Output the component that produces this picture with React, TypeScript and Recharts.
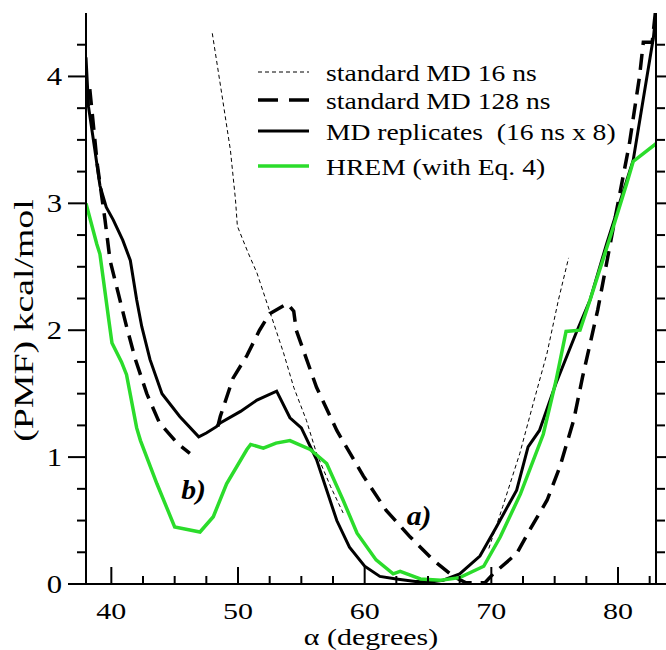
import React from 'react';
import { LineChart, Line, XAxis, YAxis, Legend, ReferenceDot } from 'recharts';

// alpha in degrees, PMF in kcal/mol
const md16Alpha = [47.97, 48.3, 48.8, 49.4, 49.8, 49.95, 50.8, 51.5, 52.3, 53.6, 54.4, 55.4, 56.2, 57.3, 58.3, 64, 69.8, 70.9, 72.25, 73.3, 74.4, 75.3, 76.1];
const md16Pmf = [4.34, 4.13, 3.81, 3.42, 3.03, 2.82, 2.61, 2.45, 2.21, 1.82, 1.55, 1.29, 1.03, 0.77, 0.56, null, 0.28, 0.61, 1.03, 1.42, 1.82, 2.24, 2.57];

const md128Alpha = [38.3, 38.9, 39.5, 39.9, 40.55, 41.2, 41.9, 42.8, 43.8, 45.2, 46.2, 47.3, 48.4, 48.6, 49.6, 50.7, 51.7, 52.5, 53.9, 54.4, 54.6, 56.2, 57.8, 59.9, 61.7, 63.6, 65.4, 67.0, 68.0, 69.5, 70.15, 72.0, 73.0, 74.4, 75.4, 76.5, 77.2, 78.4, 79.9, 80.9, 81.7, 82.0, 82.7, 83.0];
const md128Pmf = [3.9, 3.3, 2.87, 2.55, 2.29, 2.03, 1.77, 1.5, 1.27, 1.11, 1.03, null, 1.24, 1.32, 1.62, 1.8, 2.0, 2.13, 2.21, 2.15, 2.0, 1.55, 1.21, 0.85, 0.58, 0.37, 0.19, 0.06, 0.01, 0.01, 0.08, 0.24, 0.42, 0.66, 0.92, 1.29, 1.63, 2.16, 2.95, 3.47, 4.0, 4.27, 4.27, 4.55];

const replicaAlpha = [38.0, 38.2, 38.7, 39.1, 39.6, 40.15, 40.9, 41.5, 42.0, 42.4, 43.05, 44.0, 45.4, 46.9, 47.5, 48.3, 48.6, 50.2, 51.5, 53.05, 54.1, 55.0, 56.2, 57.8, 58.8, 60.0, 61.2, 62.5, 64.0, 65.5, 66.2, 67.5, 69.1, 70.4, 72.0, 72.9, 73.8, 75.1, 76.7, 77.8, 79.1, 81.2, 82.8, 83.1];
const replicaPmf = [4.15, 3.76, 3.42, 3.14, 2.97, 2.87, 2.71, 2.55, 2.24, 2.03, 1.77, 1.5, 1.32, 1.16, 1.19, 1.24, 1.27, 1.36, 1.45, 1.52, 1.31, 1.23, 0.98, 0.5, 0.29, 0.14, 0.06, 0.04, 0.02, 0.02, 0.03, 0.08, 0.22, 0.45, 0.74, 1.08, 1.21, 1.58, 1.98, 2.24, 2.68, 3.34, 4.31, 4.6];

const hremAlpha = [38.0, 38.85, 39.1, 39.8, 40.05, 40.8, 41.2, 42.0, 42.3, 43.6, 45.0, 47.0, 48.05, 49.1, 50.7, 51.0, 52.0, 53.0, 54.1, 55.7, 57.0, 58.3, 59.4, 60.9, 62.25, 62.8, 63.6, 64.4, 66.0, 67.5, 69.4, 70.7, 72.3, 74.1, 75.1, 75.9, 77.0, 77.8, 79.4, 80.7, 81.2, 83.0];
const hremPmf = [3.0, 2.68, 2.6, 2.08, 1.9, 1.75, 1.65, 1.23, 1.13, 0.79, 0.45, 0.41, 0.53, 0.79, 1.06, 1.1, 1.07, 1.11, 1.13, 1.06, 0.95, 0.66, 0.4, 0.19, 0.08, 0.1, 0.07, 0.04, 0.03, 0.05, 0.14, 0.37, 0.71, 1.18, 1.6, 1.99, 2.0, 2.24, 2.74, 3.16, 3.33, 3.47];

const xTicks = [40, 42.5, 45, 47.5, 50, 52.5, 55, 57.5, 60, 62.5, 65, 67.5, 70, 72.5, 75, 77.5, 80, 82.5];
const yTicks = [0, 0.25, 0.5, 0.75, 1, 1.25, 1.5, 1.75, 2, 2.25, 2.5, 2.75, 3, 3.25, 3.5, 3.75, 4, 4.25];

const SERIF = 'Liberation Serif, Times New Roman, DejaVu Serif, serif';
const GREEN = '#2bdc2b';

interface Point {
  alpha: number;
  pmf: number | null;
}

interface SeriesConfig {
  name: string;
  data: Point[];
  stroke: string;
  width: number;
  dash?: string;
  legendDash?: string;
}

function toPoints(alpha: number[], pmf: (number | null)[]): Point[] {
  return alpha.map((a, i) => ({ alpha: a, pmf: pmf[i] }));
}

const series: SeriesConfig[] = [
  { name: 'standard MD 16 ns', data: toPoints(md16Alpha, md16Pmf), stroke: '#000', width: 1, dash: '4 3', legendDash: '4 3' },
  { name: 'standard MD 128 ns', data: toPoints(md128Alpha, md128Pmf), stroke: '#000', width: 3.5, dash: '16 9', legendDash: '20 11' },
  { name: 'MD replicates  (16 ns x 8)', data: toPoints(replicaAlpha, replicaPmf), stroke: '#000', width: 3 },
  { name: 'HREM (with Eq. 4)', data: toPoints(hremAlpha, hremPmf), stroke: GREEN, width: 3.5 },
];

interface StretchTextProps {
  x: number;
  y: number;
  size: number;
  stretch?: number;
  anchor?: 'start' | 'middle' | 'end';
  rotate?: number;
  italic?: boolean;
  bold?: boolean;
  children: React.ReactNode;
}

// the figure's serif type is wider than Times, so text is stretched along its baseline
function StretchText({ x, y, size, stretch = 1.18, anchor = 'start', rotate = 0, italic, bold, children }: StretchTextProps) {
  const transform = `translate(${x},${y})${rotate ? ` rotate(${rotate})` : ''} scale(${stretch},1)`;
  return (
    <text
      transform={transform}
      textAnchor={anchor}
      fill="#000"
      style={{
        whiteSpace: 'pre',
        fontFamily: SERIF,
        fontSize: size,
        fontStyle: italic ? 'italic' : 'normal',
        fontWeight: bold ? 'bold' : 'normal',
      }}
    >
      {children}
    </text>
  );
}

const isMajorX = (v: number) => v % 10 === 0;
const isMajorY = (v: number) => v % 1 === 0;

function BottomTick({ x, y, payload }: any) {
  const major = isMajorX(payload.value);
  return (
    <g>
      <line x1={x} x2={x} y1={y} y2={y - (major ? 17 : 8)} stroke="#000" strokeWidth={2} />
      {major && (
        <StretchText x={x} y={y + 35} size={24} anchor="middle" stretch={1.25}>
          {payload.value}
        </StretchText>
      )}
    </g>
  );
}

function TopTick({ x, y, payload }: any) {
  const major = isMajorX(payload.value);
  return <line x1={x} x2={x} y1={y} y2={y + (major ? 17 : 8)} stroke="#000" strokeWidth={2} />;
}

function LeftTick({ x, y, payload }: any) {
  const major = isMajorY(payload.value);
  return (
    <g>
      <line x1={x} x2={x - (major ? 18 : 9)} y1={y} y2={y} stroke="#000" strokeWidth={2} />
      {major && (
        <StretchText x={x - 24} y={y + 9} size={26} anchor="end">
          {payload.value}
        </StretchText>
      )}
    </g>
  );
}

function RightTick({ x, y, payload }: any) {
  const major = isMajorY(payload.value);
  return <line x1={x} x2={x + (major ? 18 : 9)} y1={y} y2={y} stroke="#000" strokeWidth={2} />;
}

const legendRows = [72, 100, 131, 166];

function LegendBox() {
  const left = 250;
  const top = 50;
  return (
    <svg width={410} height={135} style={{ display: 'block', overflow: 'visible' }}>
      {series.map((s, i) => {
        const y = legendRows[i] - top;
        return (
          <g key={s.name}>
            <line x1={258 - left} x2={309 - left} y1={y} y2={y} stroke={s.stroke} strokeWidth={s.width} strokeDasharray={s.legendDash} />
            <StretchText x={326 - left} y={y + 9} size={23} stretch={1.2}>
              {s.name}
            </StretchText>
          </g>
        );
      })}
    </svg>
  );
}

function AnnotationLabel(text: string) {
  return ({ viewBox }: any) => (
    <StretchText x={viewBox.x} y={viewBox.y} size={27} italic bold stretch={1.1}>
      {text}
    </StretchText>
  );
}

export default function App() {
  return (
    <div style={{ position: 'absolute', left: 0, top: 0 }}>
      <LineChart width={666} height={650} margin={{ top: 13, right: 0, bottom: 0, left: 0 }}>
        <XAxis
          dataKey="alpha"
          type="number"
          domain={[38, 83]}
          allowDataOverflow
          ticks={xTicks}
          interval={0}
          height={66}
          tickSize={0}
          tickMargin={0}
          tickLine={false}
          axisLine={{ stroke: '#000', strokeWidth: 2 }}
          tick={<BottomTick />}
          label={({ viewBox }: any) => (
            <StretchText x={viewBox.x + viewBox.width / 2} y={viewBox.y + 61} size={23} anchor="middle" stretch={1.3}>
              α (degrees)
            </StretchText>
          )}
        />
        <XAxis
          xAxisId="top"
          orientation="top"
          type="number"
          domain={[38, 83]}
          allowDataOverflow
          ticks={xTicks}
          interval={0}
          height={0}
          tickSize={0}
          tickMargin={0}
          tickLine={false}
          axisLine={{ stroke: '#000', strokeWidth: 2 }}
          tick={<TopTick />}
        />
        <YAxis
          type="number"
          domain={[0, 4.5]}
          allowDataOverflow
          ticks={yTicks}
          interval={0}
          width={86}
          tickSize={0}
          tickMargin={0}
          tickLine={false}
          axisLine={{ stroke: '#000', strokeWidth: 2 }}
          tick={<LeftTick />}
          label={({ viewBox }: any) => (
            <StretchText x={viewBox.x + 33} y={viewBox.y + viewBox.height / 2 + 22} size={28} anchor="middle" rotate={-90} stretch={1.35}>
              (PMF) kcal/mol
            </StretchText>
          )}
        />
        <YAxis
          yAxisId="right"
          orientation="right"
          type="number"
          domain={[0, 4.5]}
          allowDataOverflow
          ticks={yTicks}
          interval={0}
          width={10}
          tickSize={0}
          tickMargin={0}
          tickLine={false}
          axisLine={{ stroke: '#000', strokeWidth: 2 }}
          tick={<RightTick />}
        />
        <Legend
          layout="vertical"
          align="center"
          verticalAlign="middle"
          wrapperStyle={{ left: 250, top: 50, width: 410, height: 135 }}
          content={() => <LegendBox />}
        />
        {series.map(s => (
          <Line
            key={s.name}
            name={s.name}
            data={s.data}
            dataKey="pmf"
            type="linear"
            stroke={s.stroke}
            strokeWidth={s.width}
            strokeDasharray={s.dash}
            dot={false}
            activeDot={false}
            connectNulls={false}
            isAnimationActive={false}
          />
        ))}
        <ReferenceDot x={45.6} y={0.66} r={1} fill="none" stroke="none" label={AnnotationLabel('b)')} />
        <ReferenceDot x={63.4} y={0.46} r={1} fill="none" stroke="none" label={AnnotationLabel('a)')} />
      </LineChart>
    </div>
  );
}
